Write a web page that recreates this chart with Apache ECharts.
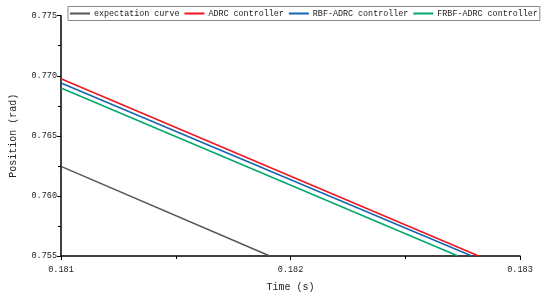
<!DOCTYPE html>
<html><head><meta charset="utf-8">
<script src="https://cdn.jsdelivr.net/npm/echarts@6/dist/echarts.min.js"></script>
<style>html,body{margin:0;padding:0;background:#fff}#c{width:550px;height:297px}</style>
</head><body><div id="c"></div>
<script>
var seriesNames = ['expectation curve', 'ADRC controller', 'RBF-ADRC controller', 'FRBF-ADRC controller'];
var expTime = [0.181, 0.18191];
var expPos = [0.76246, 0.755];
var adrcTime = [0.181, 0.18282];
var adrcPos = [0.76975, 0.755];
var rbfTime = [0.181, 0.18279];
var rbfPos = [0.7694, 0.755];
var frbfTime = [0.181, 0.18273];
var frbfPos = [0.76898, 0.755];
var colors = ['#555555', '#f0141e', '#1565b0', '#00a86a'];

function pairs(t, v) { return t.map(function (x, i) { return [x, v[i]]; }); }
var allData = [pairs(expTime, expPos), pairs(adrcTime, adrcPos), pairs(rbfTime, rbfPos), pairs(frbfTime, frbfPos)];

var font = 'Liberation Mono';
var chart = echarts.init(document.getElementById('c'), null, {renderer: 'canvas'});
chart.setOption({
  animation: false,
  backgroundColor: '#fff',
  grid: {left: 55.5, right: 30, top: 15.7, bottom: 40.3},
  legend: {
    left: 68, top: 6.5,
    orient: 'horizontal',
    borderColor: '#888', borderWidth: 1,
    padding: [3, 2, 3, 2],
    itemWidth: 20, itemHeight: 2, itemGap: 5,
    icon: 'rect',
    textStyle: {fontFamily: font, fontSize: 8.4, color: '#222', padding: [0, 0, 0, -1]},
    data: seriesNames
  },
  xAxis: {
    type: 'value', min: 0.181, max: 0.183, interval: 0.001,
    name: 'Time (s)', nameLocation: 'middle', nameGap: 26,
    nameTextStyle: {fontFamily: font, fontSize: 10, color: '#222'},
    axisLine: {onZero: false, lineStyle: {color: '#000', width: 1.5}},
    axisTick: {length: 4, lineStyle: {color: '#000', width: 1}},
    minorTick: {show: true, splitNumber: 2, length: 3, lineStyle: {color: '#000', width: 1}},
    splitLine: {show: false},
    axisLabel: {fontFamily: font, fontSize: 8.5, color: '#222', margin: 9,
      formatter: function (v) { return v.toFixed(3); }}
  },
  yAxis: {
    type: 'value', min: 0.755, max: 0.775, interval: 0.005,
    name: 'Position (rad)', nameLocation: 'middle', nameGap: 43,
    nameTextStyle: {fontFamily: font, fontSize: 10, color: '#222'},
    axisLine: {show: true, onZero: false, lineStyle: {color: '#000', width: 1.5}},
    axisTick: {show: true, length: 4, lineStyle: {color: '#000', width: 1}},
    minorTick: {show: true, splitNumber: 2, length: 3, lineStyle: {color: '#000', width: 1}},
    splitLine: {show: false},
    axisLabel: {fontFamily: font, fontSize: 8.5, color: '#222', margin: 4,
      formatter: function (v) { return v.toFixed(3); }}
  },
  series: seriesNames.map(function (n, i) {
    return {
      name: n, type: 'line', data: allData[i], showSymbol: false, symbol: 'none',
      color: colors[i], lineStyle: {width: 1.5, color: colors[i]}, z: 2 + i
    };
  })
});
</script></body></html>
